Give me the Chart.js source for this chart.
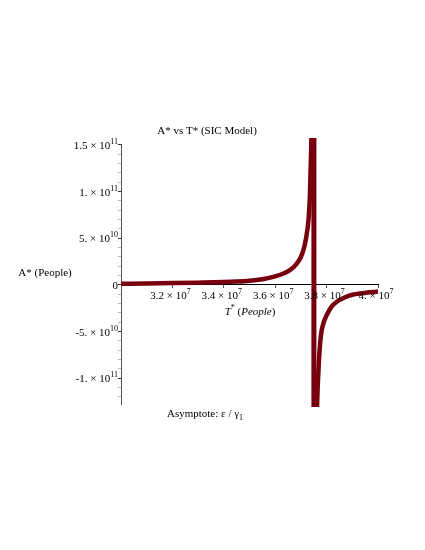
<!DOCTYPE html>
<html>
<head>
<meta charset="utf-8">
<script src="https://cdn.jsdelivr.net/npm/chart.js@4/dist/chart.umd.min.js"></script>
<style>
  html, body { margin: 0; padding: 0; background: #ffffff; }
  #wrap { width: 425px; height: 550px; }
</style>
</head>
<body>
<div id="wrap"><canvas id="c" width="425" height="550"></canvas></div>
<script>
// ---- data (T* in people, A* in people) ----
const leftT = [3.00e7, 3.10e7, 3.20e7, 3.30e7, 3.40e7, 3.45e7, 3.50e7, 3.55e7, 3.60e7, 3.63e7, 3.66e7, 3.68e7, 3.70e7, 3.71e7, 3.72e7, 3.73e7, 3.735e7, 3.74e7, 3.743e7];
const leftA = [0.13e10, 0.16e10, 0.20e10, 0.25e10, 0.31e10, 0.36e10, 0.45e10, 0.62e10, 0.92e10, 1.2e10, 1.65e10, 2.15e10, 3.0e10, 3.75e10, 5.0e10, 7.1e10, 9.6e10, 14.5e10, 19e10];
const jumpT = [3.7506e7, 3.7506e7];
const jumpA = [19e10, -19e10];
const rightT = [3.757e7, 3.760e7, 3.763e7, 3.766e7, 3.770e7, 3.775e7, 3.780e7, 3.790e7, 3.800e7, 3.820e7, 3.840e7, 3.870e7, 3.900e7, 3.940e7, 3.980e7, 4.000e7];
const rightA = [-23e10, -17e10, -12.9e10, -10.5e10, -8.2e10, -6.2e10, -5.0e10, -3.9e10, -3.25e10, -2.3e10, -1.8e10, -1.35e10, -1.05e10, -0.88e10, -0.75e10, -0.70e10];

// tick labels: mantissa part and power-of-ten exponent
const xTicks = [3.2e7, 3.4e7, 3.6e7, 3.8e7, 4.0e7];
const xTickBase = ['3.2 × 10', '3.4 × 10', '3.6 × 10', '3.8 × 10', '4. × 10'];
const xTickExp = ['7', '7', '7', '7', '7'];
const yMajorTicks = [-1e11, -5e10, 0, 5e10, 1e11, 1.5e11];
const yTickBase = ['-1. × 10', '-5. × 10', '0', '5. × 10', '1. × 10', '1.5 × 10'];
const yTickExp = ['11', '10', '', '10', '11', '11'];
const yMinorStep = 1e10;

const xMin = 3.0e7, xMax = 4.0e7;
const yMin = -1.275e11, yMax = 1.51e11;

const lineColor = '#78000E';
const FONT = '"Liberation Serif", "Times New Roman", serif';

function pts(xs, ys) { return xs.map((x, i) => ({ x: x, y: ys[i] })); }

const clipBox = { left: 0, top: 6, right: 0, bottom: 3 };

const textPlugin = {
  id: 'texts',
  afterDraw(chart) {
    const ctx = chart.ctx;
    ctx.save();
    ctx.fillStyle = '#000';
    ctx.textBaseline = 'middle';
    function measure(items) {
      let total = 0;
      items.forEach(it => {
        ctx.font = (it.italic ? 'italic ' : '') + it.size + 'px ' + FONT;
        it.w = ctx.measureText(it.t).width;
        total += it.w;
      });
      return total;
    }
    function drawAt(items, x, cy) {
      items.forEach(it => {
        ctx.font = (it.italic ? 'italic ' : '') + it.size + 'px ' + FONT;
        ctx.textAlign = 'left';
        ctx.fillText(it.t, x, cy + (it.dy || 0));
        x += it.w;
      });
    }
    function runs(items, cx, cy) { const w = measure(items); drawAt(items, cx - w / 2, cy); }
    function runsRight(items, rx, cy) { const w = measure(items); drawAt(items, rx - w, cy); }

    // tick labels
    const xs = chart.scales.x, ys = chart.scales.y;
    const y0 = ys.getPixelForValue(0);
    xTicks.forEach((v, i) => {
      const items = [{ t: xTickBase[i], size: 11 }];
      if (xTickExp[i]) items.push({ t: xTickExp[i], size: 8, dy: -4 });
      runs(items, xs.getPixelForValue(v) - 2, y0 + 11);
    });
    yMajorTicks.forEach((v, i) => {
      const items = [{ t: yTickBase[i], size: 11 }];
      if (yTickExp[i]) items.push({ t: yTickExp[i], size: 8, dy: -4 });
      runsRight(items, 118, ys.getPixelForValue(v) + 1);
    });

    runs([{ t: 'A* vs T* (SIC Model)', size: 11 }], 207, 131);
    runs([{ t: 'A* (People)', size: 11 }], 45, 273);
    runs([
      { t: 'T', size: 11, italic: true },
      { t: '*', size: 8, dy: -4 },
      { t: ' (', size: 11 },
      { t: 'People', size: 11, italic: true },
      { t: ')', size: 11 }
    ], 250, 312);
    runs([
      { t: 'Asymptote: ε / γ', size: 11 },
      { t: '1', size: 8, dy: 4 }
    ], 205, 414);
    ctx.restore();
  }
};

const chart = new Chart(document.getElementById('c'), {
  type: 'line',
  data: {
    datasets: [
      { data: pts(leftT, leftA), borderColor: lineColor, borderWidth: 4.5, pointRadius: 0, cubicInterpolationMode: 'monotone', clip: clipBox },
      { data: pts(jumpT, jumpA), borderColor: lineColor, borderWidth: 5, pointRadius: 0, tension: 0, clip: clipBox },
      { data: pts(rightT, rightA), borderColor: lineColor, borderWidth: 4.5, pointRadius: 0, cubicInterpolationMode: 'monotone', clip: clipBox }
    ]
  },
  options: {
    responsive: false,
    animation: false,
    devicePixelRatio: 1,
    layout: { padding: { left: 0, top: 144, right: 47, bottom: 146 } },
    plugins: { legend: { display: false }, tooltip: { enabled: false }, title: { display: false } },
    scales: {
      x: {
        type: 'linear',
        min: xMin, max: xMax,
        position: { y: 0 },
        afterBuildTicks(scale) { scale.ticks = xTicks.map(v => ({ value: v })); },
        ticks: { autoSkip: false, maxRotation: 0, padding: 2, color: '#000', font: { family: FONT, size: 11 }, callback() { return ''; } },
        grid: { drawOnChartArea: false, drawTicks: true, tickLength: 3, tickColor: '#555' },
        border: { display: true, color: '#000', width: 1 }
      },
      y: {
        type: 'linear',
        min: yMin, max: yMax,
        position: 'left',
        afterFit(scale) { scale.width = 121; },
        afterBuildTicks(scale) {
          const t = [];
          for (let v = -1.2e11; v <= 1.5e11 + 1; v += yMinorStep) t.push({ value: Math.round(v / 1e9) * 1e9 });
          scale.ticks = t;
        },
        ticks: { autoSkip: false, padding: 3, color: '#000', font: { family: FONT, size: 11 }, callback() { return ''; } },
        grid: {
          drawOnChartArea: false, drawTicks: true, tickLength: 3,
          tickColor(ctx) { return ctx.tick && yMajorTicks.indexOf(ctx.tick.value) >= 0 ? '#333' : '#bbb'; }
        },
        border: { display: true, color: '#555', width: 1 }
      }
    }
  },
  plugins: [textPlugin]
});
</script>
</body>
</html>
